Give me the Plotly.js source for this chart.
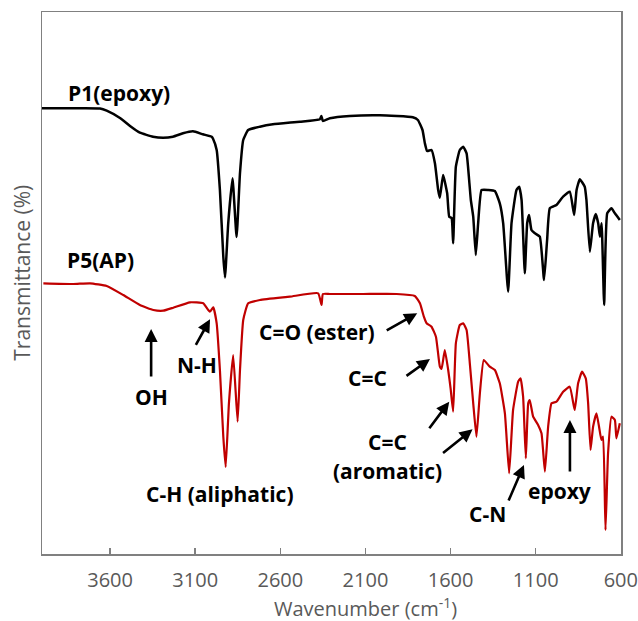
<!DOCTYPE html>
<html>
<head>
<meta charset="utf-8">
<script src="https://cdn.plot.ly/plotly-3.0.1.min.js"></script>
<style>html,body{margin:0;padding:0;background:#fff;}</style>
</head>
<body>
<div id="chart" style="width:638px;height:621px;"></div>
<script>
// ---- Data (arbitrary transmittance units) ----
const p1Wavenumber = [4000,3836,3659,3620,3542,3483,3425,3348,3289,3231,3172,3113,3055,3003,2996,2974,2955,2935,2925,2906,2881,2857,2837,2818,2789,2720,2644,2485,2368,2359,2350,2309,2192,2015,1822,1792,1765,1751,1738,1712,1692,1673,1663,1644,1620,1608,1594,1585,1569,1546,1526,1506,1491,1481,1467,1452,1438,1418,1379,1340,1311,1291,1262,1242,1213,1197,1183,1164,1150,1139,1125,1105,1076,1051,1033,1017,978,939,900,874,860,841,812,802,782,763,747,733,723,713,698,680,655,635,606];
const p1Transmittance = [445.7,445.7,445.5,443.3,436,428,421.3,417.3,416.3,417.3,420.7,422.7,419.7,417.3,415.5,404,364,297.3,276.5,331,375.7,317,381,414,424,427.3,429.7,432.3,434.7,438,433,435.7,438,438.7,436.7,434,424,410.7,403,404,390.7,364,356.3,379,360.7,337.3,336,310.7,387.3,404,407.3,400.7,374,354,337.3,299,331,364,364,363,350.7,330.7,262.3,331,364,367.3,354,280.7,331,339,324,320.7,317.3,274,314,345.7,349,357.3,362.3,339,364,374.7,367.3,354,302.3,330.7,340,330.7,317.3,330.7,249,340.7,345.7,340.7,334];

const p5Wavenumber = [3992,3816,3718,3620,3523,3425,3346,3288,3229,3131,3053,3014,2994,2974,2955,2935,2921,2902,2877,2851,2837,2818,2789,2720,2544,2378,2358,2350,2309,2113,1917,1810,1780,1757,1741,1712,1686,1663,1653,1634,1614,1600,1585,1569,1546,1526,1506,1487,1467,1448,1428,1405,1370,1340,1311,1281,1256,1233,1203,1189,1174,1158,1144,1135,1115,1086,1066,1046,1027,1007,978,939,900,871,851,828,806,792,778,763,743,728,714,704,690,675,655,635,626,606];
const p5Transmittance = [270.7,270,270.7,268,259,249,244,243.3,246.3,251.7,250.7,242.3,246.7,230.7,184,117.3,87,150.7,199,132.3,184,234,250.7,254,257.3,260.7,249,260,260,260,260,258,250.7,237.3,230.7,227.3,217.3,187.3,185,204,184,165.7,142.3,210.7,229,230.7,224,190.7,150.7,117.3,160.7,194,187.3,184,170.7,140.7,80.7,144,172.3,175.7,157.3,95.7,150.7,154,137.3,129,120.7,82.3,127.3,150.7,152.3,162.3,167.3,144,170.7,182.3,175.7,150.7,104,127.3,140.7,127.3,114,117.3,24,100.7,137.3,134,115.7,130.7];

const seriesNames = ['P1(epoxy)', 'P5(AP)'];
const xTickValues = [3600, 3100, 2600, 2100, 1600, 1100, 600];
const xTickLabels = ['3600', '3100', '2600', '2100', '1600', '1100', '600'];
const bandLabels = ['OH', 'N-H', 'C=O (ester)', 'C=C', 'C=C', '(aromatic)', 'C-H (aliphatic)', 'C-N', 'epoxy'];
const xTitle = 'Wavenumber (cm<sup>-1</sup>)';
const yTitle = 'Transmittance (%)';

// ---- Layout helpers ----
const labelFont = {family: 'Open Sans, sans-serif', size: 21, color: '#000000'};
function textAnn(text, x, y) {
  return {x: x, y: y, xref: 'x', yref: 'y', text: '<b>' + text + '</b>', showarrow: false,
          font: labelFont, xanchor: 'center', yanchor: 'middle'};
}
function arrowAnn(x, y, ax, ay) {
  return {x: x, y: y, xref: 'x', yref: 'y', text: '', showarrow: true, ax: ax, ay: ay,
          arrowhead: 2, arrowsize: 1, arrowwidth: 2.6, arrowcolor: '#000000', standoff: 0};
}

const traces = [
  {x: p1Wavenumber, y: p1Transmittance, name: seriesNames[0], type: 'scatter', mode: 'lines',
   line: {color: '#000000', width: 2.5, shape: 'spline', smoothing: 0.4}},
  {x: p5Wavenumber, y: p5Transmittance, name: seriesNames[1], type: 'scatter', mode: 'lines',
   line: {color: '#C00000', width: 2.2, shape: 'spline', smoothing: 0.4}}
];

const annotations = [
  textAnn(seriesNames[0], 3547, 461),
  textAnn(seriesNames[1], 3659, 294),
  textAnn(bandLabels[0], 3359, 157),
  textAnn(bandLabels[1], 3091, 189),
  textAnn(bandLabels[2], 2385, 222.5),
  textAnn(bandLabels[3], 2088, 176),
  textAnn(bandLabels[4], 1968, 112),
  textAnn(bandLabels[5], 1968, 83),
  textAnn(bandLabels[6], 2954, 60),
  textAnn(bandLabels[7], 1384, 40.5),
  textAnn(bandLabels[8], 960, 63),
  arrowAnn(3359, 225, 0, 49),
  arrowAnn(3013, 234.7, -15, 27),
  arrowAnn(1796, 240.7, -32, 18),
  arrowAnn(1721, 195, -25, 18),
  arrowAnn(1608, 152.3, -21, 28),
  arrowAnn(1471, 124.7, -31, 25),
  arrowAnn(1169, 89, -16, 37),
  arrowAnn(899, 134, 0, 53),
  {x: 0.558, y: -0.0978, xref: 'paper', yref: 'paper', text: xTitle, showarrow: false, borderpad: 0,
   font: {family: 'Open Sans, sans-serif', size: 20, color: '#595959'}, xanchor: 'center', yanchor: 'middle'},
  {x: -0.0345, y: 0.519, xref: 'paper', yref: 'paper', text: yTitle, showarrow: false, textangle: -90,
   font: {family: 'Open Sans, sans-serif', size: 21, color: '#595959'}, xanchor: 'center', yanchor: 'middle'}
];

const layout = {
  width: 638, height: 621,
  margin: {l: 42, r: 17, t: 12, b: 67, pad: 0},
  paper_bgcolor: '#ffffff', plot_bgcolor: '#ffffff',
  showlegend: false,
  xaxis: {
    range: [4000, 599], tickvals: xTickValues, ticktext: xTickLabels,
    ticks: 'inside', ticklen: 6, tickwidth: 1.5, tickcolor: '#808080',
    showline: true, mirror: true, linecolor: '#808080', linewidth: 1.5,
    showgrid: false, zeroline: false,
    tickfont: {family: 'Open Sans, sans-serif', size: 20, color: '#595959'},
    ticklabelstandoff: 7
  },
  yaxis: {
    range: [0, 542], showticklabels: false, ticks: '',
    showline: true, mirror: true, linecolor: '#808080', linewidth: 1.5,
    showgrid: false, zeroline: false
  },
  annotations: annotations
};

Plotly.newPlot('chart', traces, layout, {displayModeBar: false, staticPlot: true});
</script>
</body>
</html>
